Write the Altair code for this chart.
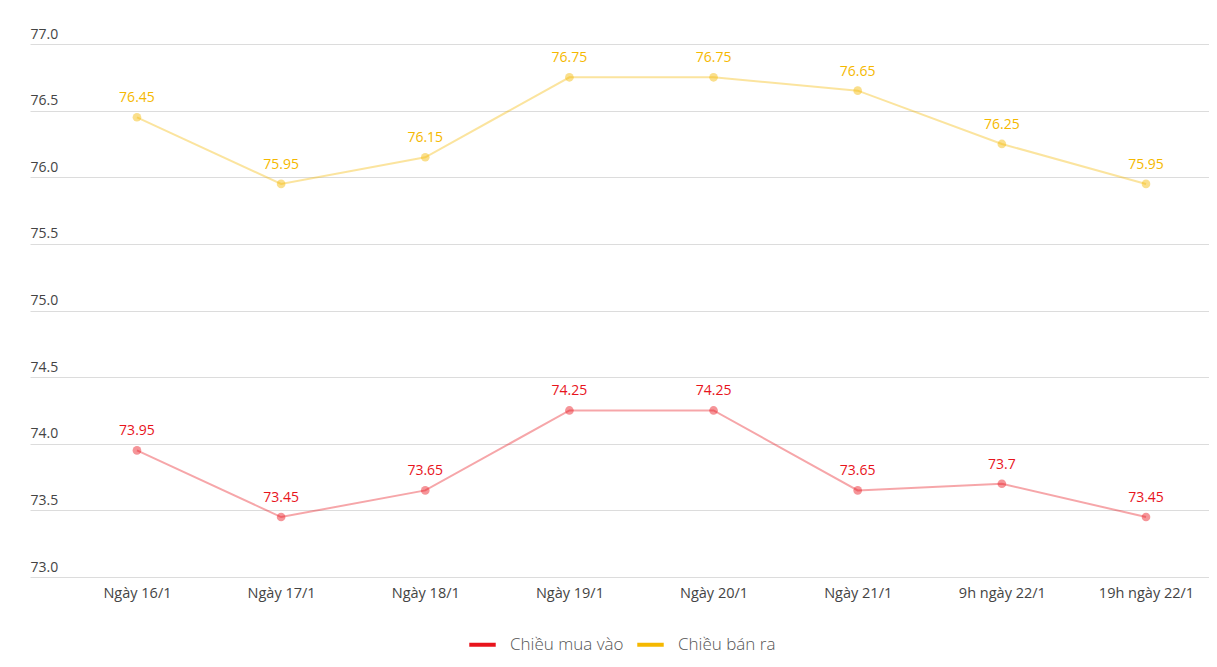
import altair as alt
import pandas as pd

days = ["Ngày 16/1", "Ngày 17/1", "Ngày 18/1", "Ngày 19/1", "Ngày 20/1",
        "Ngày 21/1", "9h ngày 22/1", "19h ngày 22/1"]
buy = [73.95, 73.45, 73.65, 74.25, 74.25, 73.65, 73.7, 73.45]
sell = [76.45, 75.95, 76.15, 76.75, 76.75, 76.65, 76.25, 75.95]
series_names = ["Chiều mua vào", "Chiều bán ra"]
series_colors = ["#e8141c", "#f5b800"]
y_ticks = [73.0, 73.5, 74.0, 74.5, 75.0, 75.5, 76.0, 76.5, 77.0]

rows = []
for i, (d, b, s) in enumerate(zip(days, buy, sell)):
    rows.append({"idx": i, "day": d, "series": series_names[0], "value": b, "label": f"{b:g}"})
    rows.append({"idx": i, "day": d, "series": series_names[1], "value": s, "label": f"{s:g}"})
df = pd.DataFrame(rows)

W, H = 1179, 533
label_expr = "[" + ",".join("'" + d + "'" for d in days) + "][datum.value]"

x = alt.X("idx:Q", title=None,
          scale=alt.Scale(domain=[-0.742, 7.437], nice=False, zero=False),
          axis=alt.Axis(values=list(range(len(days))), labelExpr=label_expr,
                        labelAngle=0, ticks=False, domain=False, grid=False,
                        labelFont="Open Sans", labelFontSize=14.5, labelColor="#444",
                        labelPadding=9))
y = alt.Y("value:Q", title=None,
          scale=alt.Scale(domain=[73, 77], nice=False, zero=False),
          axis=alt.Axis(values=y_ticks, format=".1f", ticks=False, domain=False,
                        grid=True, gridColor="#dcdcdc", gridWidth=1,
                        labelAlign="left", labelBaseline="bottom", labelPadding=0,
                        labelOffset=-3, labelFont="Open Sans", labelFontSize=14,
                        labelColor="#444", minExtent=0, maxExtent=0, offset=0))
color = alt.Color("series:N", title=None,
                  scale=alt.Scale(domain=series_names, range=series_colors),
                  legend=alt.Legend(orient="none", legendX=437, legendY=52 + H,
                                    direction="horizontal", symbolType="stroke",
                                    symbolStrokeWidth=4, symbolSize=700,
                                    symbolOpacity=1, labelFont="Open Sans",
                                    labelFontSize=17, labelFontWeight=300,
                                    labelColor="#555",
                                    columnPadding=5, labelOffset=12))

base = alt.Chart(df).encode(x=x, y=y, color=color)
line = base.mark_line(strokeWidth=2, opacity=0.38)
pts = base.mark_point(filled=True, size=75, opacity=0.45)
txt = base.mark_text(dy=-19, fontSize=14, font="Open Sans", fontWeight=500).encode(text="label:N")

chart = (line + pts + txt).properties(
    width=W, height=H,
    padding={"left": 22, "top": 19, "right": 0, "bottom": 10},
    autosize=alt.AutoSizeParams(type="pad"),
).configure_view(stroke=None)

chart.save("out.html", embed_options={"renderer": "svg", "actions": False})
